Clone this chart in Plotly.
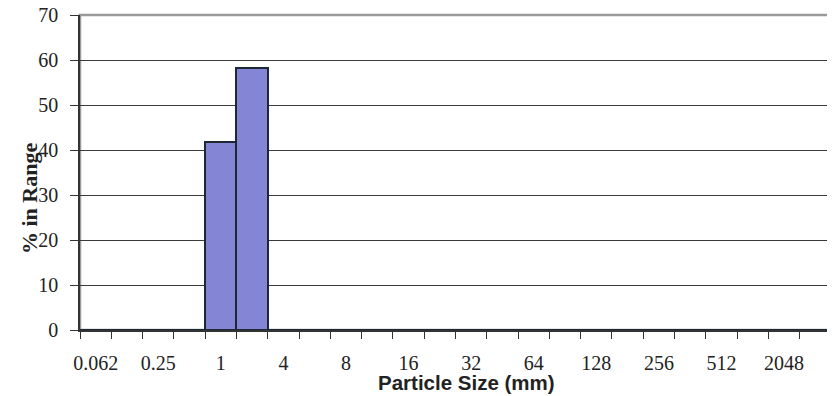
import plotly.graph_objects as go

# Size-class tick labels (every other bin is labelled)
tick_labels = ["0.062", "0.25", "1", "4", "8", "16", "32", "64", "128", "256", "512", "2048"]

# Percent of sample in each of the 24 size bins
pct_in_range = [0, 0, 0, 0, 41.7, 58.3, 0, 0, 0, 0, 0, 0,
                0, 0, 0, 0, 0, 0, 0, 0, 0, 0, 0, 0]

bin_index = list(range(len(pct_in_range)))
label_pos = bin_index[::2]
boundaries = [i - 0.5 for i in range(len(pct_in_range) + 1)]

serif = "Liberation Serif, Times New Roman, serif"
sans = "Liberation Sans, Arial, sans-serif"

fig = go.Figure()
fig.add_trace(go.Bar(
    x=bin_index,
    y=pct_in_range,
    marker=dict(color="#8585D5", line=dict(color="#1C2836", width=2)),
    width=1,
    showlegend=False,
))

# page body has an 8px margin, so the figure is 8px smaller / shifted
fig.update_layout(
    width=827, height=388,
    margin=dict(l=72, r=4, t=7, b=66),
    paper_bgcolor="white", plot_bgcolor="white",
    bargap=0,
    shapes=[dict(type="rect", xref="x domain", yref="y domain", x0=0, x1=1, y0=0, y1=1,
                 line=dict(color="#9A9A9A", width=2.5), layer="below")],
    annotations=[
        dict(text="<b>Particle Size (mm)</b>", xref="paper", yref="paper",
             x=(466 - 80) / 751, y=(330 - 382) / 315, xanchor="center", yanchor="middle",
             showarrow=False, font=dict(family=sans, size=20.5, color="#222")),
        dict(text="<b>% in Range</b>", xref="paper", yref="paper", textangle=-90,
             x=(30 - 80) / 751, y=(330 - 198) / 315, xanchor="center", yanchor="middle",
             showarrow=False, font=dict(family=serif, size=22, color="#222")),
    ],
)

fig.update_xaxes(
    type="linear", range=[-0.5, len(pct_in_range) - 0.5], automargin=False,
    tickmode="array", tickvals=label_pos, ticktext=tick_labels,
    ticks="", showgrid=False, zeroline=False,
    showline=True, linecolor="#333", linewidth=1.5,
    tickfont=dict(family=serif, size=20, color="#222"),
    ticklabelstandoff=14, ticklabeloverflow="allow",
    minor=dict(tickmode="array", tickvals=boundaries, ticks="outside", ticklen=7,
               tickcolor="#333", tickwidth=1.2, showgrid=False),
)

fig.update_yaxes(
    range=[0, 70], dtick=10, tick0=0, automargin=False,
    showgrid=True, gridcolor="#3A3A3A", gridwidth=1,
    zeroline=False, showline=True, linecolor="#333", linewidth=1.5,
    ticks="outside", ticklen=8, tickcolor="#333",
    tickfont=dict(family=serif, size=20, color="#222"),
    ticklabelstandoff=8, ticklabeloverflow="allow",
)

fig.write_html("out.html")
